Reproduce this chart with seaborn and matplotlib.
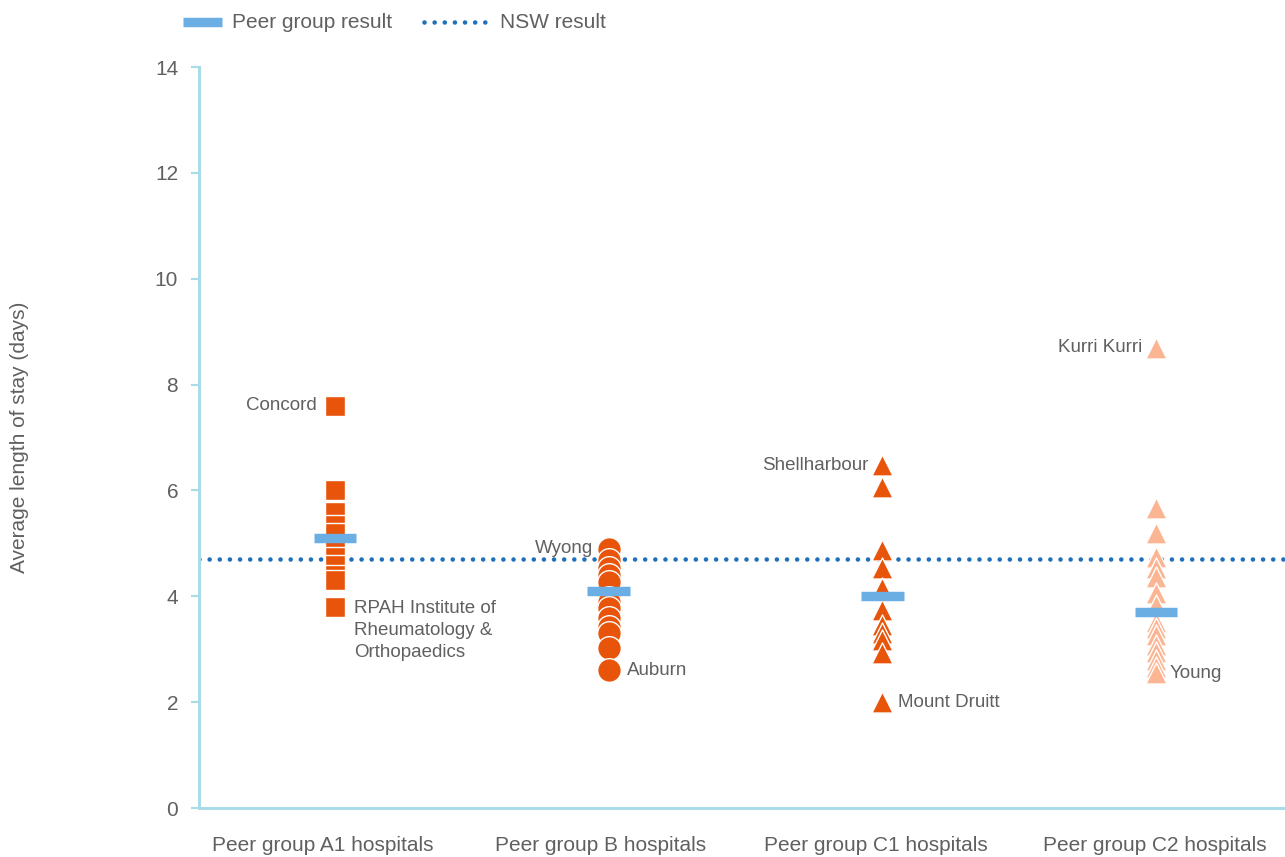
import numpy as np
import pandas as pd
import matplotlib
matplotlib.use("Agg")
import matplotlib.pyplot as plt
import seaborn as sns
from matplotlib.lines import Line2D

categories = ["Peer group A1 hospitals", "Peer group B hospitals",
              "Peer group C1 hospitals", "Peer group C2 hospitals"]
a1_values = [7.6, 6.0, 5.6, 5.35, 5.2, 4.95, 4.75, 4.6, 4.4, 4.3, 3.8]
b_values = [4.9, 4.68, 4.53, 4.4, 4.27, 3.97, 3.9, 3.78, 3.59, 3.42, 3.3, 3.02, 2.6]
c1_values = [6.48, 6.07, 4.87, 4.53, 4.16, 3.74, 3.46, 3.3, 3.17, 2.93, 2.0]
c2_values = [8.7, 5.67, 5.2, 4.75, 4.53, 4.36, 4.06, 3.84, 3.52, 3.4, 3.27, 3.08,
             2.95, 2.8, 2.67, 2.55]
peer_results = [5.1, 4.1, 4.0, 3.7]
nsw_result = 4.7
yticks = [0, 2, 4, 6, 8, 10, 12, 14]
labels = [  # (category index, value, text, side)
    (0, 7.6, "Concord", "left"),
    (0, 3.8, "RPAH Institute of\nRheumatology &\nOrthopaedics", "right"),
    (1, 4.9, "Wyong", "left"),
    (1, 2.6, "Auburn", "right"),
    (2, 6.48, "Shellharbour", "left"),
    (2, 2.0, "Mount Druitt", "right"),
    (3, 8.7, "Kurri Kurri", "left"),
    (3, 2.55, "Young", "right"),
]

sns.set_theme(style="white")
plt.rcParams["font.family"] = ["Liberation Sans", "DejaVu Sans"]
text_color = "#606060"
axis_color = "#a9dce6"
orange = "#E8540A"
peach = "#FBB592"
peer_blue = "#6AAEE3"
nsw_blue = "#1F6FBA"
W, H = 1285, 857
# tick labels sit slightly left of the marker columns in the original
tick_label_shift = [-0.044, -0.028, -0.023, -0.004]
# label offsets in points
label_gap = [13, 14, 11, 13, 10, 11, 10, 10]

rows = []
for i, vals in enumerate([a1_values, b_values, c1_values, c2_values]):
    for v in vals:
        rows.append({"x": i, "value": v, "group": categories[i]})
df = pd.DataFrame(rows)

fig = plt.figure(figsize=(W / 100, H / 100), dpi=100)
ax = fig.add_axes([199 / W, 49 / H, 1 - 199 / W, (808 - 67) / H])

dot_style = (0, (0.01, 2.2))
ax.axhline(nsw_result, color=nsw_blue, lw=3.3, ls=dot_style,
           dash_capstyle="round", zorder=1)

markers = ["s", "o", "^", "^"]
colors = [orange, orange, orange, peach]
sizes = [220, 290, 230, 230]
for i, cat in enumerate(categories):
    sub = df[df["group"] == cat]
    sns.scatterplot(data=sub, x="x", y="value", marker=markers[i], color=colors[i],
                    s=sizes[i], edgecolor="white", linewidth=1.0, ax=ax, zorder=3,
                    legend=False)

for i, p in enumerate(peer_results):
    ax.plot([i - 0.078, i + 0.078], [p, p], color=peer_blue, lw=6.8,
            solid_capstyle="butt", zorder=4)

fs_ann = 13.5
for (i, v, t, side), g in zip(labels, label_gap):
    if side == "left":
        ax.annotate(t, (i, v), xytext=(-g, 0), textcoords="offset points",
                    ha="right", va="center", fontsize=fs_ann, color=text_color)
    else:
        if "\n" in t:
            ax.annotate(t, (i, v), xytext=(g, 5), textcoords="offset points",
                        ha="left", va="top", fontsize=fs_ann, color=text_color,
                        linespacing=1.38)
        else:
            ax.annotate(t, (i, v), xytext=(g, 0), textcoords="offset points",
                        ha="left", va="center", fontsize=fs_ann, color=text_color)

ax.set_xlim(-0.497, 3.471)
ax.set_ylim(0, 14)
ax.set_yticks(yticks)
ax.set_yticklabels([str(t) for t in yticks], fontsize=15, color=text_color)
ax.set_xticks([i + s for i, s in enumerate(tick_label_shift)])
ax.set_xticklabels(categories, fontsize=15, color=text_color)
ax.set_xlabel("")
ax.set_ylabel("Average length of stay (days)", fontsize=15, color=text_color)
ax.yaxis.set_label_coords((29 - 199) / (W - 199), 0.5)
for s in ["top", "right"]:
    ax.spines[s].set_visible(False)
for s in ["left", "bottom"]:
    ax.spines[s].set_color(axis_color)
    ax.spines[s].set_linewidth(2.2)
ax.tick_params(axis="y", which="both", left=True, length=6, width=1.5,
               color=axis_color, pad=9)
ax.tick_params(axis="x", bottom=False, pad=14)

# legend drawn in figure pixel coordinates
ly = 1 - 22 / H
fig.add_artist(Line2D([183 / W, 222 / W], [ly, ly], color=peer_blue, lw=6.8,
                      solid_capstyle="butt", transform=fig.transFigure))
fig.text(232 / W, ly, "Peer group result", ha="left", va="center", fontsize=15,
         color=text_color)
fig.add_artist(Line2D([424 / W, 488 / W], [ly, ly], color=nsw_blue, lw=3.3,
                      ls=dot_style, dash_capstyle="round",
                      transform=fig.transFigure))
fig.text(500 / W, ly, "NSW result", ha="left", va="center", fontsize=15,
         color=text_color)

fig.savefig("out.png", dpi=100)
